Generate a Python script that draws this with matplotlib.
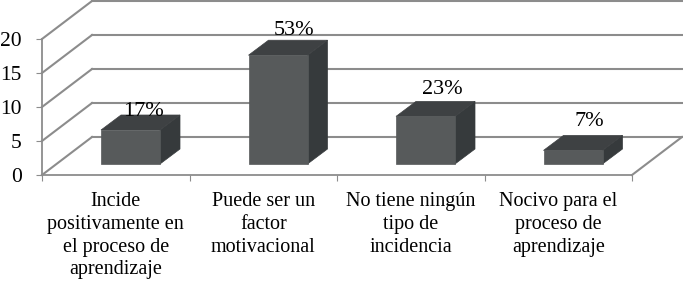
#!/usr/bin/python3

import matplotlib
matplotlib.use("Agg")
import matplotlib.pyplot as plt
from matplotlib.patches import Polygon

categories = ["Incide\npositivamente en\nel proceso de\naprendizaje",
              "Puede ser un\nfactor\nmotivacional",
              "No tiene ningún\ntipo de\nincidencia",
              "Nocivo para el\nproceso de\naprendizaje"]
values = [5, 16, 7, 2]
percent_labels = ["17%", "53%", "23%", "7%"]
y_ticks = [0, 5, 10, 15, 20]

# fake 3d offsets, in pixels
W, H = 683, 281
left, right, top, bottom = 42, 632, 39, 175
unit_x = (right - left) / 4
unit_y = (bottom - top) / 20
wall_dx, wall_dy = 50 / unit_x, 38 / unit_y
bar_x0 = (101 - left) / unit_x
bar_w = 59 / unit_x
bar_lift = 11 / unit_y
bar_dx, bar_dy = 20 / unit_x, 15 / unit_y
label_dx = [3, 6, 7, 6]
label_dy = [4, 10, 12, 14]

plt.rcParams["font.family"] = ["Liberation Serif", "DejaVu Serif"]
fig = plt.figure(figsize=(W / 100, H / 100), dpi=100)
ax = fig.add_axes([left / W, 1 - bottom / H, (right - left) / W, (bottom - top) / H])
ax.set_xlim(0, 4)
ax.set_ylim(0, 20)
for s in ["top", "right"]:
    ax.spines[s].set_visible(False)
for s in ["left", "bottom"]:
    ax.spines[s].set_color("#8c8c8c")
    ax.spines[s].set_linewidth(1.3)

grid = dict(color="#8c8c8c", lw=1.5, clip_on=False, zorder=1)
# walls and floor
for v in y_ticks:
    ax.plot([0, wall_dx], [v, v + wall_dy], **grid)
    ax.plot([wall_dx, 4 + wall_dx], [v + wall_dy, v + wall_dy], **grid)
ax.plot([4, 4 + wall_dx], [0, wall_dy], **grid)

# bars
for i, v in enumerate(values):
    x0 = i + bar_x0
    x1 = x0 + bar_w
    y0 = bar_lift
    y1 = v + bar_lift
    front = [(x0, y0), (x1, y0), (x1, y1), (x0, y1)]
    side = [(x1, y0), (x1 + bar_dx, y0 + bar_dy), (x1 + bar_dx, y1 + bar_dy), (x1, y1)]
    roof = [(x0, y1), (x1, y1), (x1 + bar_dx, y1 + bar_dy), (x0 + bar_dx, y1 + bar_dy)]
    ax.add_patch(Polygon(side, fc="#363a3c", ec="#363a3c", lw=0.5, clip_on=False, zorder=3))
    ax.add_patch(Polygon(roof, fc="#3e4143", ec="#3e4143", lw=0.5, clip_on=False, zorder=3))
    ax.add_patch(Polygon(front, fc="#575a5b", ec="#575a5b", lw=0.5, clip_on=False, zorder=3))
    ax.annotate(percent_labels[i], ((x0 + x1 + bar_dx) / 2, y1 + bar_dy),
                xytext=(label_dx[i] * 0.72, label_dy[i] * 0.72),
                textcoords="offset points", ha="center", va="center", fontsize=16, color="black", zorder=4)

ax.set_yticks(y_ticks)
ax.tick_params(axis="y", labelsize=15.5, length=4.5, color="#8c8c8c", pad=10)
ax.set_xticks(range(5))
ax.set_xticklabels([])
ax.set_xticks([i + 0.5 for i in range(4)], categories, minor=True)
ax.tick_params(axis="x", which="major", length=4.5, color="#8c8c8c")
ax.tick_params(axis="x", which="minor", length=0, labelsize=14.5, pad=12)
for t in ax.get_xticklabels(minor=True):
    t.set_linespacing(1.28)

fig.savefig("out.png", dpi=100)
